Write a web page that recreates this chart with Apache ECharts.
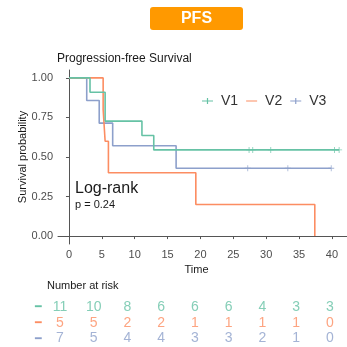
<!DOCTYPE html>
<html><head><meta charset="utf-8">
<script src="https://cdn.jsdelivr.net/npm/echarts@6/dist/echarts.min.js"></script>
<style>html,body{margin:0;padding:0;background:#fff}#c{width:347px;height:347px}</style>
</head><body><div id="c"></div>
<script>
// ---- data ----
const seriesNames = ['V1', 'V2', 'V3'];
const colors = ['#66C2A5', '#FC8D62', '#8DA0CB'];
// Kaplan-Meier step points: time at which value begins
const v1Times = [0, 3.2, 5.5, 11.1, 12.9, 41.1];
const v1Surv  = [1.0, 0.909, 0.727, 0.636, 0.545, 0.545];
const v2Times = [0, 5.2, 5.5, 6.0, 19.3, 37.4];
const v2Surv  = [1.0, 0.8, 0.6, 0.4, 0.2, 0.0];
const v3Times = [0, 2.7, 4.6, 6.65, 16.3, 39.9];
const v3Surv  = [1.0, 0.857, 0.714, 0.571, 0.429, 0.429];
// censoring marks
const v1Censor = [27.4, 27.96, 30.7, 40.4, 41.1];
const v1CensorSurv = 0.545;
const v2Censor = [];
const v3Censor = [27.2, 33.3, 39.9];
const v3CensorSurv = 0.429;
// axis ticks
const xTicks = [0, 5, 10, 15, 20, 25, 30, 35, 40];
const yTicks = [0, 0.25, 0.5, 0.75, 1.0];
// number at risk
const riskTimes = [0, 5, 10, 15, 20, 25, 30, 35, 40];
const riskV1 = [11, 10, 8, 6, 6, 6, 4, 3, 3];
const riskV2 = [5, 5, 2, 2, 1, 1, 1, 1, 0];
const riskV3 = [7, 5, 4, 4, 3, 3, 2, 1, 0];

const FONT = '"Liberation Sans", Arial, sans-serif';
const plus = 'path://M4.3,0H5.7V4.3H10V5.7H5.7V10H4.3V5.7H0V4.3H4.3Z';
const linePlusIcon = 'path://M0,3.4H11V4.6H0Z M4.9,1H6.1V7H4.9Z M0,0H0.01V0.01H0Z M0,8H0.01V7.99H0Z';
const lineOnlyIcon = 'path://M0,3.4H11V4.6H0Z M0,0H0.01V0.01H0Z M0,8H0.01V7.99H0Z';

function km(t, s) { return t.map((x, i) => [x, s[i]]); }
const kmData = [km(v1Times, v1Surv), km(v2Times, v2Surv), km(v3Times, v3Surv)];
const censorData = [v1Censor.map(t => [t, v1CensorSurv]), v2Censor.map(t => [t, 0]), v3Censor.map(t => [t, v3CensorSurv])];
const riskData = [riskV1, riskV2, riskV3];

const chart = echarts.init(document.getElementById('c'), null, {renderer: 'canvas'});
const series = [];
seriesNames.forEach((n, i) => {
  series.push({
    name: n, type: 'line', step: 'end', xAxisIndex: 0, yAxisIndex: 0,
    data: kmData[i], showSymbol: false, symbol: 'none',
    lineStyle: {color: colors[i], width: 1.6}, itemStyle: {color: colors[i]},
    animation: false, z: 3 - i
  });
  if (censorData[i].length) {
    series.push({
      name: n, type: 'scatter', xAxisIndex: 0, yAxisIndex: 0,
      data: censorData[i], symbol: plus, symbolSize: 6,
      itemStyle: {color: colors[i]}, animation: false
    });
  }
  series.push({
    type: 'scatter', xAxisIndex: 1, yAxisIndex: 1,
    data: riskTimes.map((t, k) => [t, n, riskData[i][k]]),
    symbolSize: 0, animation: false, silent: true,
    label: {show: true, position: 'inside', formatter: p => String(p.value[2]),
      color: colors[i], fontSize: 14, fontFamily: FONT}
  });
});

chart.setOption({
  animation: false,
  textStyle: {fontFamily: FONT},
  title: [
    {text: 'Progression-free Survival', left: 52, top: 48,
     textStyle: {fontSize: 12, fontWeight: 'normal', color: '#1a1a1a', fontFamily: FONT}},
    {text: 'Log-rank', left: 70, top: 176,
     textStyle: {fontSize: 16, fontWeight: 'normal', color: '#1a1a1a', fontFamily: FONT}},
    {text: 'p = 0.24', left: 70, top: 194,
     textStyle: {fontSize: 11, fontWeight: 'normal', color: '#1a1a1a', fontFamily: FONT}},
    {text: 'Number at risk', left: 42, top: 275,
     textStyle: {fontSize: 11, fontWeight: 'normal', color: '#1a1a1a', fontFamily: FONT}}
  ],
  graphic: [
    {type: 'rect', shape: {x: 150, y: 7, width: 93, height: 23, r: 3}, style: {fill: '#FF9900'}},
    {type: 'text', x: 196.5, y: 18.5, style: {text: 'PFS', fill: '#fff', font: 'bold 16px ' + FONT, align: 'center', verticalAlign: 'middle'}}
  ],
  legend: {
    left: 197, top: 89, itemWidth: 11, itemHeight: 8, itemGap: 8,
    textStyle: {fontSize: 14, color: '#333', fontFamily: FONT, padding: [0, 0, 0, 3]},
    data: [
      {name: 'V1', icon: linePlusIcon, itemStyle: {color: colors[0]}},
      {name: 'V2', icon: lineOnlyIcon, itemStyle: {color: colors[1]}},
      {name: 'V3', icon: linePlusIcon, itemStyle: {color: colors[2]}}
    ],
    selectedMode: false
  },
  grid: [
    {left: 58, right: 0, top: 70, height: 174, containLabel: false},
    {left: 53.25, right: 3.5, top: 299, height: 47.5, containLabel: false}
  ],
  xAxis: [
    {type: 'value', gridIndex: 0, min: -1.67, max: 42.3,
     name: 'Time', nameLocation: 'middle', nameGap: 16,
     nameTextStyle: {fontSize: 11, color: '#1a1a1a', padding: [0, 12, 0, 0]},
     axisLine: {show: true, lineStyle: {color: '#555', width: 1}},
     axisTick: {show: true, length: 3, customValues: xTicks, lineStyle: {color: '#555'}},
     axisLabel: {customValues: xTicks, fontSize: 11, color: '#4d4d4d', margin: 5},
     splitLine: {show: false}},
    {type: 'value', gridIndex: 1, min: -1, max: 42, show: false}
  ],
  yAxis: [
    {type: 'value', gridIndex: 0, min: -0.05, max: 1.05,
     name: 'Survival probability', nameLocation: 'middle', nameGap: 30, nameMoveOverlap: false,
     nameTextStyle: {fontSize: 11, color: '#1a1a1a'},
     axisLine: {show: true, lineStyle: {color: '#555', width: 1}},
     axisTick: {show: true, length: 3, customValues: yTicks, lineStyle: {color: '#555'}},
     axisLabel: {customValues: yTicks, fontSize: 11, color: '#4d4d4d', margin: 5,
       formatter: v => v.toFixed(2)},
     splitLine: {show: false}},
    {type: 'category', gridIndex: 1, data: seriesNames, inverse: true,
     axisLine: {show: false}, axisTick: {show: false}, splitLine: {show: false},
     axisLabel: {show: true, margin: 11, formatter: v => '{' + v + '|━}',
       rich: {
         V1: {color: colors[0], fontSize: 11}, V2: {color: colors[1], fontSize: 11}, V3: {color: colors[2], fontSize: 11}
       }}}
  ],
  series: series
});
</script></body></html>
